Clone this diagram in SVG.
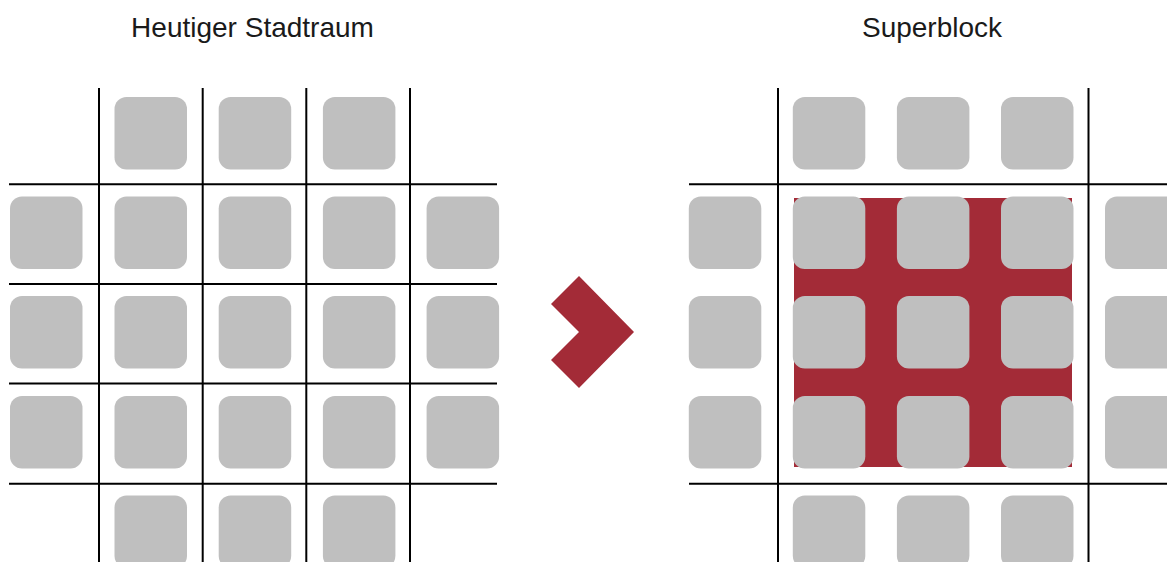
<svg xmlns="http://www.w3.org/2000/svg" width="1167" height="562" viewBox="0 0 1167 562">
<style>
.title{font-family:"Liberation Sans",Arial,sans-serif;font-size:28px;fill:#1a1a1a;text-anchor:middle}
.road{stroke:#000;stroke-width:2;fill:none}
.blk{fill:#bfbfbf}
.red{fill:#a32b37}
</style>
<defs>
<rect id="b" width="72.5" height="72.5" rx="12" ry="12"/>
</defs>
<rect width="1167" height="562" fill="#fff"/>
<g id="title-left"><text class="title" x="252.5" y="37">Heutiger Stadtraum</text></g>
<g id="title-right"><text class="title" x="932" y="37">Superblock</text></g>

<g id="roads-left" class="road">
<line x1="99" y1="88" x2="99" y2="562"/>
<line x1="202.7" y1="88" x2="202.7" y2="562"/>
<line x1="306.3" y1="88" x2="306.3" y2="562"/>
<line x1="410" y1="88" x2="410" y2="562"/>
<line x1="9" y1="184.3" x2="497" y2="184.3"/>
<line x1="9" y1="284" x2="497" y2="284"/>
<line x1="9" y1="383.5" x2="497" y2="383.5"/>
<line x1="9" y1="483.7" x2="497" y2="483.7"/>
</g>

<g id="blocks-left" class="blk">
<use href="#b" x="114.5" y="97"/><use href="#b" x="218.7" y="97"/><use href="#b" x="322.9" y="97"/>
<use href="#b" x="10" y="196.5"/><use href="#b" x="114.5" y="196.5"/><use href="#b" x="218.7" y="196.5"/><use href="#b" x="322.9" y="196.5"/><use href="#b" x="426.6" y="196.5"/>
<use href="#b" x="10" y="296"/><use href="#b" x="114.5" y="296"/><use href="#b" x="218.7" y="296"/><use href="#b" x="322.9" y="296"/><use href="#b" x="426.6" y="296"/>
<use href="#b" x="10" y="396"/><use href="#b" x="114.5" y="396"/><use href="#b" x="218.7" y="396"/><use href="#b" x="322.9" y="396"/><use href="#b" x="426.6" y="396"/>
<use href="#b" x="114.5" y="495.5"/><use href="#b" x="218.7" y="495.5"/><use href="#b" x="322.9" y="495.5"/>
</g>

<g id="arrow"><polygon class="red" points="579,276 634,332 579,388 551,360 579,332 551,304"/></g>

<g id="superblock-area"><rect class="red" x="794" y="198" width="278" height="269"/></g>

<g id="roads-right" class="road">
<line x1="778" y1="88" x2="778" y2="562"/>
<line x1="1088.5" y1="88" x2="1088.5" y2="562"/>
<line x1="689" y1="184.3" x2="1167" y2="184.3"/>
<line x1="689" y1="483.7" x2="1167" y2="483.7"/>
</g>

<g id="blocks-right" class="blk">
<use href="#b" x="792.8" y="97"/><use href="#b" x="896.9" y="97"/><use href="#b" x="1001" y="97"/>
<use href="#b" x="688.8" y="196.5"/><use href="#b" x="792.8" y="196.5"/><use href="#b" x="896.9" y="196.5"/><use href="#b" x="1001" y="196.5"/><use href="#b" x="1105" y="196.5"/>
<use href="#b" x="688.8" y="296"/><use href="#b" x="792.8" y="296"/><use href="#b" x="896.9" y="296"/><use href="#b" x="1001" y="296"/><use href="#b" x="1105" y="296"/>
<use href="#b" x="688.8" y="396"/><use href="#b" x="792.8" y="396"/><use href="#b" x="896.9" y="396"/><use href="#b" x="1001" y="396"/><use href="#b" x="1105" y="396"/>
<use href="#b" x="792.8" y="495.5"/><use href="#b" x="896.9" y="495.5"/><use href="#b" x="1001" y="495.5"/>
</g>
</svg>
